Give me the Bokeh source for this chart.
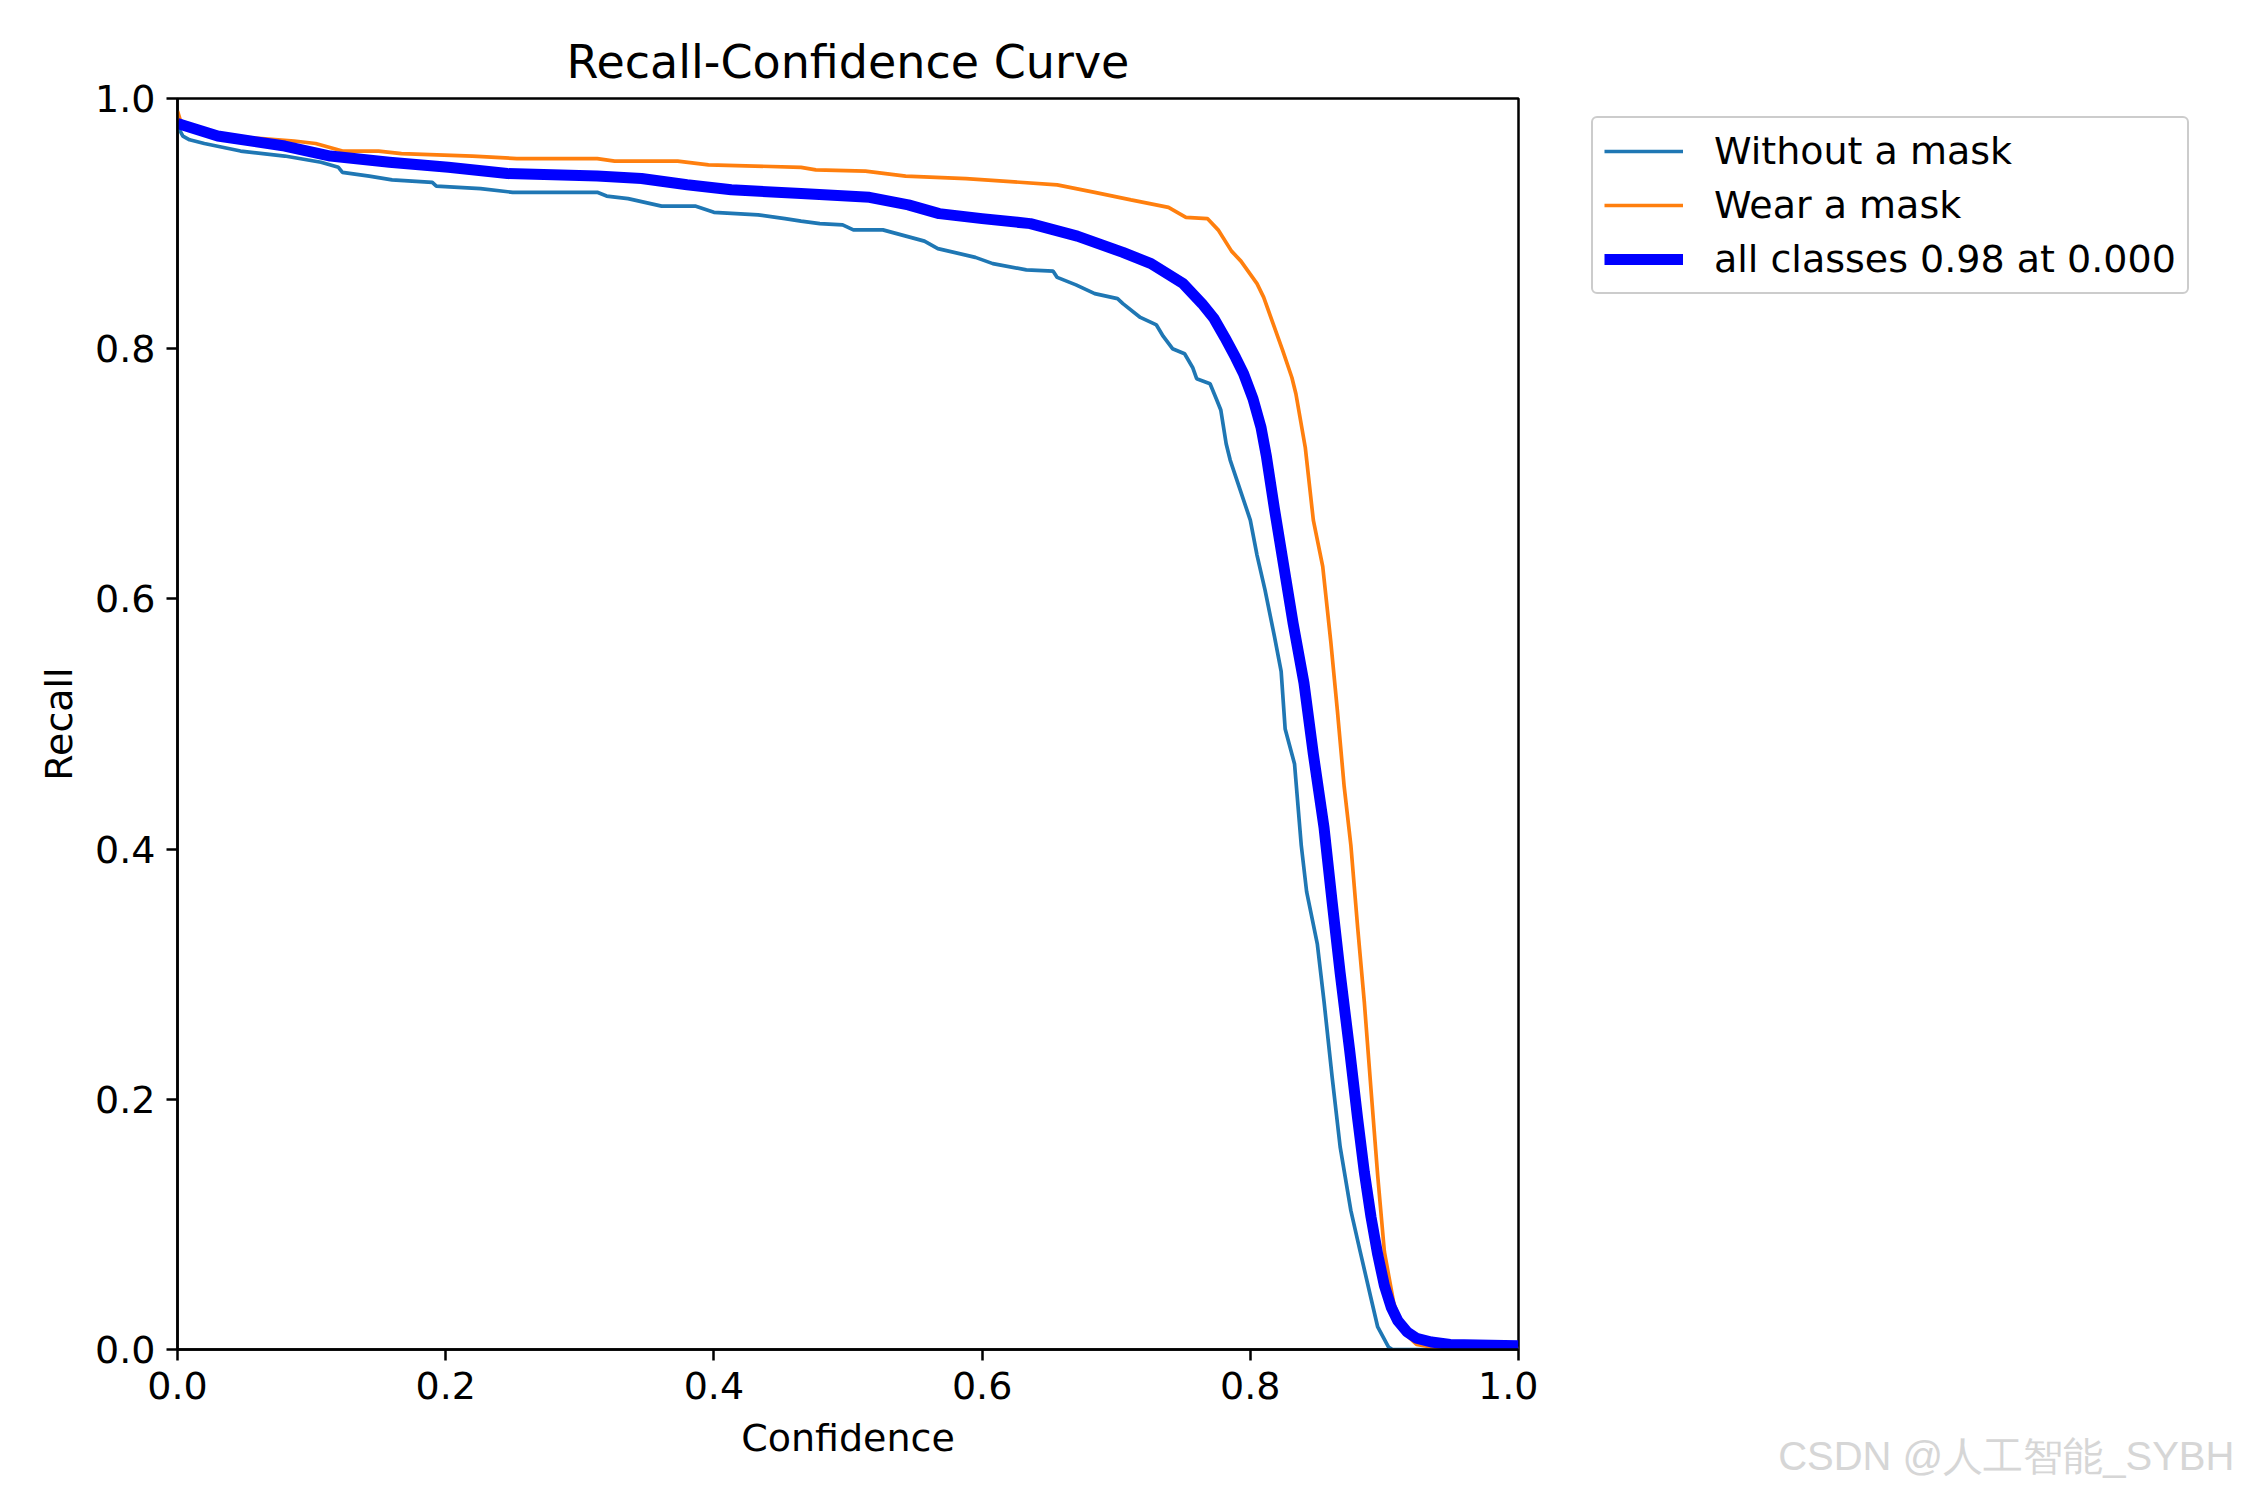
from bokeh.plotting import figure
from bokeh.layouts import row
from bokeh.models import Range1d, FixedTicker, Legend, LegendItem, LinearAxis
from bokeh.embed import file_html
from bokeh.resources import INLINE

# ---------------- data ----------------
title_text = "Recall-Confidence Curve"
x_label = "Confidence"
y_label = "Recall"
tick_values = [0.0, 0.2, 0.4, 0.6, 0.8, 1.0]
tick_labels = ["0.0", "0.2", "0.4", "0.6", "0.8", "1.0"]

series_names = ["Without a mask", "Wear a mask", "all classes 0.98 at 0.000"]
series_colors = ["#1f77b4", "#ff7f0e", "#0000ff"]

without_x = [0.000, 0.004, 0.009, 0.020, 0.047, 0.080, 0.107, 0.120, 0.123, 0.143,
             0.160, 0.190, 0.193, 0.226, 0.250, 0.313, 0.320, 0.336, 0.361, 0.386,
             0.400, 0.433, 0.453, 0.465, 0.479, 0.496, 0.504, 0.526, 0.557, 0.567,
             0.595, 0.608, 0.633, 0.653, 0.656, 0.670, 0.684, 0.701, 0.705, 0.718,
             0.730, 0.735, 0.742, 0.751, 0.757, 0.760, 0.770, 0.775, 0.778, 0.782,
             0.785, 0.790, 0.800, 0.805, 0.811, 0.818, 0.823, 0.826, 0.833, 0.838,
             0.842, 0.850, 0.855, 0.861, 0.867, 0.875, 0.882, 0.890, 0.895, 0.903,
             0.906, 1.000]
without_y = [0.978, 0.970, 0.967, 0.964, 0.958, 0.954, 0.949, 0.945, 0.941, 0.938,
             0.935, 0.933, 0.930, 0.928, 0.925, 0.925, 0.922, 0.920, 0.914, 0.914,
             0.909, 0.907, 0.904, 0.902, 0.900, 0.899, 0.895, 0.895, 0.886, 0.880,
             0.873, 0.868, 0.863, 0.862, 0.857, 0.851, 0.844, 0.840, 0.836, 0.825,
             0.819, 0.810, 0.800, 0.796, 0.785, 0.776, 0.772, 0.759, 0.751, 0.724,
             0.711, 0.695, 0.663, 0.635, 0.607, 0.570, 0.542, 0.496, 0.468, 0.403,
             0.366, 0.324, 0.278, 0.218, 0.162, 0.111, 0.078, 0.041, 0.018, 0.002,
             0.000, 0.000]

wear_x = [0.000, 0.002, 0.010, 0.030, 0.063, 0.087, 0.103, 0.123, 0.150, 0.167,
          0.220, 0.253, 0.313, 0.326, 0.373, 0.396, 0.465, 0.476, 0.513, 0.543,
          0.588, 0.656, 0.684, 0.711, 0.739, 0.752, 0.768, 0.776, 0.786, 0.793,
          0.805, 0.810, 0.817, 0.824, 0.831, 0.834, 0.841, 0.847, 0.854, 0.860,
          0.865, 0.870, 0.875, 0.880, 0.885, 0.890, 0.895, 0.900, 0.907, 0.915,
          0.924, 0.940, 1.000]
wear_y = [0.990, 0.983, 0.975, 0.970, 0.968, 0.966, 0.964, 0.958, 0.958, 0.956,
          0.954, 0.952, 0.952, 0.950, 0.950, 0.947, 0.945, 0.943, 0.942, 0.938,
          0.936, 0.931, 0.925, 0.919, 0.913, 0.905, 0.904, 0.895, 0.878, 0.870,
          0.852, 0.841, 0.820, 0.799, 0.777, 0.764, 0.721, 0.663, 0.626, 0.566,
          0.510, 0.450, 0.403, 0.338, 0.278, 0.208, 0.139, 0.078, 0.037, 0.013,
          0.004, 0.001, 0.001]

all_x = [0.000, 0.030, 0.080, 0.114, 0.158, 0.202, 0.246, 0.313, 0.346, 0.380,
         0.413, 0.465, 0.516, 0.545, 0.568, 0.600, 0.636, 0.671, 0.705, 0.726,
         0.750, 0.764, 0.773, 0.781, 0.789, 0.795, 0.802, 0.808, 0.812, 0.818,
         0.825, 0.832, 0.840, 0.847, 0.855, 0.861, 0.867, 0.874, 0.880, 0.885,
         0.890, 0.895, 0.900, 0.905, 0.910, 0.917, 0.924, 0.935, 0.949, 1.000]
all_y = [0.980, 0.970, 0.962, 0.954, 0.949, 0.945, 0.940, 0.938, 0.936, 0.931,
         0.927, 0.924, 0.921, 0.915, 0.908, 0.904, 0.900, 0.890, 0.877, 0.868,
         0.852, 0.836, 0.824, 0.809, 0.793, 0.780, 0.760, 0.737, 0.714, 0.672,
         0.626, 0.580, 0.533, 0.476, 0.417, 0.358, 0.301, 0.240, 0.185, 0.142,
         0.106, 0.076, 0.051, 0.034, 0.023, 0.014, 0.009, 0.006, 0.004, 0.003]

watermark = "CSDN @人工智能_SYBH"

# ---------------- main figure ----------------
FONT = "DejaVu Sans"
W_MAIN, W_SIDE, H = 1538, 696, 1484

p = figure(width=W_MAIN, height=H, output_backend="svg", toolbar_location=None,
           x_range=Range1d(0, 1), y_range=Range1d(0, 1),
           min_border_left=177, min_border_right=20,
           min_border_top=98, min_border_bottom=135)

p.title.text = title_text
p.title.text_font = FONT
p.title.text_font_size = "46px"
p.title.text_font_style = "normal"
p.title.align = "center"
p.title.text_color = "black"
p.title.standoff = 19

p.grid.visible = False
p.outline_line_color = "black"
p.outline_line_width = 2.5
p.outline_line_alpha = 1.0
p.background_fill_color = "white"
p.border_fill_color = "white"

for ax in (p.xaxis[0], p.yaxis[0]):
    ax.ticker = FixedTicker(ticks=tick_values)
    ax.major_label_overrides = {v: s for v, s in zip(tick_values, tick_labels)}
    ax.major_label_text_font = FONT
    ax.major_label_text_font_size = "38px"
    ax.major_label_text_color = "black"
    ax.axis_label_text_font = FONT
    ax.axis_label_text_font_size = "38px"
    ax.axis_label_text_font_style = "normal"
    ax.axis_label_text_color = "black"
    ax.axis_line_width = 2.5
    ax.axis_line_color = "black"
    ax.major_tick_line_width = 2.5
    ax.major_tick_line_color = "black"
    ax.major_tick_out = 11
    ax.major_tick_in = 0
    ax.minor_tick_line_color = None

p.xaxis.axis_label = x_label
p.yaxis.axis_label = y_label
p.xaxis.major_label_standoff = 11
p.yaxis.major_label_standoff = 11
p.xaxis.axis_label_standoff = 14
p.yaxis.axis_label_standoff = 11

p.line(without_x, without_y, line_color=series_colors[0], line_width=3.7)
p.line(wear_x, wear_y, line_color=series_colors[1], line_width=3.7)
p.line(all_x, all_y, line_color=series_colors[2], line_width=11, line_join="round")

# ---------------- side panel: legend + watermark ----------------
# side panel x range runs in pixel-like units away from the data,
# so only the legend samples of the three lines show
side = figure(width=W_SIDE, height=H, output_backend="svg", toolbar_location=None,
              x_range=Range1d(1000, 1000 + W_SIDE), y_range=Range1d(0, 1),
              x_axis_type=None, y_axis_type=None,
              min_border_left=0, min_border_right=0,
              min_border_top=0, min_border_bottom=0)
side.grid.visible = False
side.outline_line_color = None
side.background_fill_color = "white"
side.border_fill_color = "white"

k1 = side.line(without_x, without_y, line_color=series_colors[0], line_width=3.7)
k2 = side.line(wear_x, wear_y, line_color=series_colors[1], line_width=3.7)
k3 = side.line(all_x, all_y, line_color=series_colors[2], line_width=11)

legend = Legend(items=[LegendItem(label=series_names[0], renderers=[k1]),
                       LegendItem(label=series_names[1], renderers=[k2]),
                       LegendItem(label=series_names[2], renderers=[k3])],
                location=(53, 1055))
legend.label_text_font = FONT
legend.label_text_font_size = "38px"
legend.label_text_color = "black"
legend.label_height = 38
legend.glyph_height = 38
legend.glyph_width = 79
legend.label_standoff = 31
legend.spacing = 10
legend.padding = 11
legend.margin = 0
legend.border_line_color = "#cccccc"
legend.border_line_width = 2.5
legend.border_line_alpha = 1.0
legend.background_fill_color = "white"
legend.background_fill_alpha = 1.0
if "border_radius" in legend.properties():
    legend.border_radius = 6
side.add_layout(legend)

# watermark: single tick label of a bare axis under the side panel
WM_TICK = 1000 + 468
wm_axis = LinearAxis(ticker=FixedTicker(ticks=[WM_TICK]),
                     major_label_overrides={WM_TICK: watermark})
wm_axis.axis_line_color = None
wm_axis.major_tick_line_color = None
wm_axis.minor_tick_line_color = None
wm_axis.major_tick_out = 0
wm_axis.major_tick_in = 0
wm_axis.major_label_standoff = 84
wm_axis.major_label_text_font = "Liberation Sans"
wm_axis.major_label_text_font_size = "40px"
wm_axis.major_label_text_color = "#d6d6d6"
side.add_layout(wm_axis, "below")

layout = row(p, side, spacing=0)
open("out.html", "w").write(file_html(layout, INLINE))
